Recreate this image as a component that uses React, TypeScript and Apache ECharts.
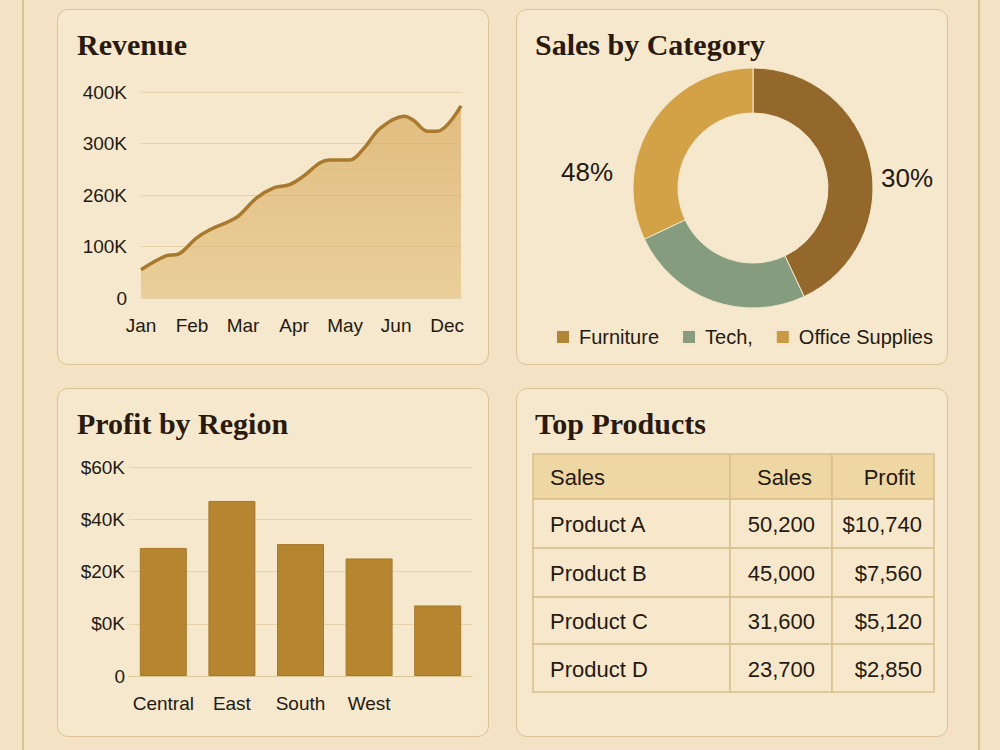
import React, { useEffect, useRef } from 'react';
import * as echarts from 'echarts';

// ---------- data ----------
const revenueX = [0, 0.49, 0.73, 1.08, 1.34, 1.73, 1.93, 2.26, 2.6, 2.91, 3.19, 3.5, 3.7, 4.09, 4.37, 4.69, 5.16, 5.35, 5.61, 5.81, 6.27];
const revenueY = [55, 82, 85, 116, 132, 149, 161, 194, 214, 220, 237, 262, 268, 268, 291, 330, 353, 344, 324, 324, 373];
const monthLabels = ['Jan', 'Feb', 'Mar', 'Apr', 'May', 'Jun', 'Dec'];
const revenueTickLabels = ['0', '100K', '260K', '300K', '400K'];

const categoryNames = ['Furniture', 'Tech,', 'Office Supplies'];
const categoryValues = [43, 25, 32];
const categoryPctLabels = ['30%', '', '48%'];

const regionNames = ['Central', 'East', 'South', 'West', ''];
const regionProfit = [49, 67, 50.5, 45, 27];
const profitTickLabels = ['0', '$0K', '$20K', '$40K', '$60K'];

const tableHeader = ['Sales', 'Sales', 'Profit'];
const productNames = ['Product A', 'Product B', 'Product C', 'Product D'];
const productSales = [50200, 45000, 31600, 23700];
const productProfit = [10740, 7560, 5120, 2850];

// ---------- styles ----------
const INK = '#241a12';
const SANS = 'Liberation Sans, Arial, sans-serif';
const SERIF = 'Liberation Serif, Times New Roman, serif';
const GRID_LINE = '#e6d2a8';

const panels = [
  { x: 57, y: 9, w: 432, h: 356 },
  { x: 516, y: 9, w: 432, h: 356 },
  { x: 57, y: 388, w: 432, h: 349 },
  { x: 516, y: 388, w: 432, h: 349 },
];

function buildTable(): any[] {
  const colX = [533, 730, 832, 934];
  const rowY = [454, 499, 548, 597, 644, 692];
  const els: any[] = [];
  const rows: string[][] = [tableHeader];
  productNames.forEach((n, i) => {
    rows.push([
      n,
      productSales[i].toLocaleString('en-US'),
      '$' + productProfit[i].toLocaleString('en-US'),
    ]);
  });
  rows.forEach((row, r) => {
    row.forEach((_txt, c) => {
      els.push({
        type: 'rect',
        shape: { x: colX[c], y: rowY[r], width: colX[c + 1] - colX[c], height: rowY[r + 1] - rowY[r] },
        style: { fill: r === 0 ? '#efd7a4' : '#f7e8cb', stroke: '#d9bf8c', lineWidth: 1.5 },
      });
    });
  });
  rows.forEach((row, r) => {
    const cy = (rowY[r] + rowY[r + 1]) / 2 + 1;
    row.forEach((txt, c) => {
      const left = c === 0;
      let x = c === 0 ? 550 : c === 1 ? 815 : 922;
      if (r === 0 && c === 1) x = 812;
      if (r === 0 && c === 2) x = 915;
      els.push({
        type: 'text',
        x,
        y: cy,
        style: {
          text: txt,
          fill: INK,
          font: `22px ${SANS}`,
          textAlign: left ? 'left' : 'right',
          textVerticalAlign: 'middle',
        },
      });
    });
  });
  return els;
}

function title(text: string, x: number, y: number) {
  return {
    type: 'text',
    x,
    y,
    style: {
      text,
      fill: '#2a1a0e',
      font: `bold 30px ${SERIF}`,
      textAlign: 'left',
      textVerticalAlign: 'middle',
    },
  };
}

export default function App() {
  const ref = useRef<HTMLDivElement>(null);

  useEffect(() => {
    if (!ref.current) return;
    const chart = echarts.init(ref.current, undefined, { renderer: 'svg' });
    const axisLabel = { color: INK, fontSize: 19, fontFamily: SANS };

    const option: any = {
      animation: false,
      backgroundColor: 'transparent',
      grid: [
        { left: 141, top: 92, width: 320, height: 206 },
        { left: 129, top: 467, width: 343, height: 209 },
      ],
      xAxis: [
        {
          type: 'value',
          gridIndex: 0,
          min: 0,
          max: 6.27,
          interval: 1,
          axisLine: { show: false },
          axisTick: { show: false },
          splitLine: { show: false },
          axisLabel: {
            ...axisLabel,
            margin: 18,
            showMaxLabel: false,
            formatter: (v: number) => (Number.isInteger(v) ? monthLabels[v] ?? '' : ''),
          },
        },
        {
          type: 'category',
          gridIndex: 1,
          data: regionNames,
          axisLine: { show: true, lineStyle: { color: '#dcc597', width: 1 } },
          axisTick: { show: false },
          axisLabel: { ...axisLabel, margin: 18, interval: 0 },
        },
      ],
      yAxis: [
        {
          type: 'value',
          gridIndex: 0,
          min: 0,
          max: 400,
          interval: 100,
          axisLine: { show: false },
          axisTick: { show: false },
          splitLine: { show: true, lineStyle: { color: GRID_LINE, width: 1.2 } },
          axisLabel: {
            ...axisLabel,
            margin: 14,
            formatter: (v: number) => revenueTickLabels[Math.round(v / 100)] ?? '',
          },
        },
        {
          type: 'value',
          gridIndex: 1,
          min: 0,
          max: 80,
          interval: 20,
          axisLine: { show: false },
          axisTick: { show: false },
          splitLine: { show: true, lineStyle: { color: GRID_LINE, width: 1.2 } },
          axisLabel: {
            ...axisLabel,
            margin: 4,
            formatter: (v: number) => profitTickLabels[Math.round(v / 20)] ?? '',
          },
        },
      ],
      legend: {
        left: 550,
        top: 322,
        orient: 'horizontal',
        icon: 'rect',
        itemWidth: 14,
        itemHeight: 14,
        itemGap: 22,
        textStyle: { color: INK, fontSize: 20, fontFamily: SANS, padding: [0, 0, 0, 4] },
        data: [
          { name: categoryNames[0], itemStyle: { color: '#b08535' } },
          { name: categoryNames[1], itemStyle: { color: '#8a9c80' } },
          { name: categoryNames[2], itemStyle: { color: '#c99a43' } },
        ],
      },
      series: [
        {
          type: 'line',
          xAxisIndex: 0,
          yAxisIndex: 0,
          data: revenueX.map((x, i) => [x, revenueY[i]]),
          smooth: 0.35,
          symbol: 'none',
          lineStyle: { color: '#a9792e', width: 3.5 },
          areaStyle: {
            color: new echarts.graphic.LinearGradient(0, 0, 0, 1, [
              { offset: 0, color: 'rgba(212,163,82,0.9)' },
              { offset: 1, color: 'rgba(224,186,114,0.8)' },
            ]),
          },
        },
        {
          type: 'bar',
          xAxisIndex: 1,
          yAxisIndex: 1,
          data: regionProfit,
          barWidth: 47,
          itemStyle: { color: '#b5862f', borderColor: '#a77a2a', borderWidth: 1 },
        },
        {
          type: 'pie',
          center: [753, 188],
          radius: [75, 120],
          startAngle: 90,
          clockwise: true,
          itemStyle: { borderColor: '#f3e6cc', borderWidth: 1 },
          label: {
            show: true,
            position: 'outside',
            color: INK,
            fontSize: 26,
            fontFamily: SANS,
            formatter: (p: any) => categoryPctLabels[p.dataIndex] ?? '',
          },
          labelLine: { show: false },
          labelLayout: (p: any) => {
            if (p.dataIndex === 0) return { x: 907, y: 178, align: 'center', verticalAlign: 'middle' };
            if (p.dataIndex === 2) return { x: 587, y: 172, align: 'center', verticalAlign: 'middle' };
            return {};
          },
          emphasis: { disabled: true },
          data: categoryNames.map((n, i) => ({
            name: n,
            value: categoryValues[i],
            itemStyle: { color: ['#94682b', '#869c7f', '#d3a246'][i] },
          })),
        },
      ],
      graphic: {
        elements: [
          title('Revenue', 77, 44),
          title('Sales by Category', 535, 44),
          title('Profit by Region', 77, 423),
          title('Top Products', 535, 423),
          ...buildTable(),
        ],
      },
    };
    chart.setOption(option);
    return () => chart.dispose();
  }, []);

  return (
    <div style={{ position: 'absolute', left: 0, top: 0, width: 1000, height: 750, background: '#f3e3c4', overflow: 'hidden' }}>
      <div style={{ position: 'absolute', left: 22, top: 0, width: 1.5, height: 750, background: '#d8c193' }} />
      <div style={{ position: 'absolute', left: 978, top: 0, width: 1.5, height: 750, background: '#d8c193' }} />
      {panels.map((p, i) => (
        <div
          key={i}
          style={{
            position: 'absolute',
            left: p.x,
            top: p.y,
            width: p.w,
            height: p.h,
            boxSizing: 'border-box',
            background: '#f6e8cc',
            border: '1.5px solid #dbc395',
            borderRadius: 11,
          }}
        />
      ))}
      <div ref={ref} style={{ position: 'absolute', left: 0, top: 0, width: 1000, height: 750 }} />
    </div>
  );
}
